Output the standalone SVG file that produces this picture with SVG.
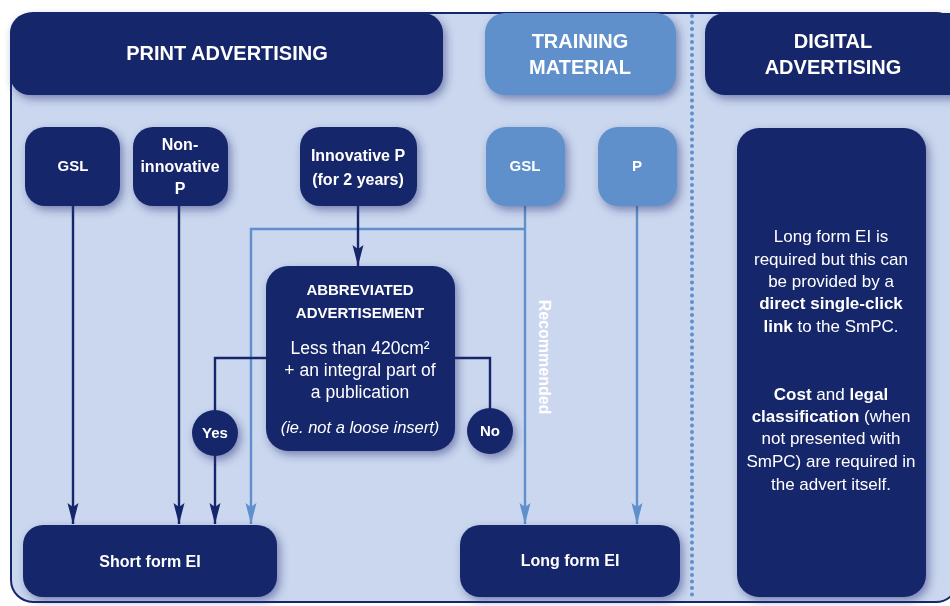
<svg xmlns="http://www.w3.org/2000/svg" width="950" height="606" viewBox="0 0 950 606">
  <style>
    .navy { fill: #16266b; }
    .light { fill: #5f90cb; }
    .t { font-family: "Liberation Sans", Arial, sans-serif; fill: #ffffff; text-anchor: middle; }
    .b { font-weight: bold; }
    .h { font-size: 20px; font-weight: bold; }
    .n { font-size: 16px; font-weight: bold; }
    .s { font-size: 15px; font-weight: bold; }
    .d { font-size: 17px; }
    .cn { fill: none; stroke: #16266b; stroke-width: 2.4; }
    .cl { fill: none; stroke: #5f90cb; stroke-width: 2.4; }
  </style>
  <defs>
    <filter id="sh" x="-20%" y="-20%" width="150%" height="150%">
      <feDropShadow dx="3" dy="4" stdDeviation="4.5" flood-color="#2b307a" flood-opacity="0.5"/>
    </filter>
    <marker id="an" markerUnits="userSpaceOnUse" markerWidth="22" markerHeight="12" viewBox="0 0 22 12" refX="21" refY="6" orient="auto">
      <path d="M0,0.5 L21,6 L0,11.5 L4,6 z" fill="#16266b"/>
    </marker>
    <marker id="al" markerUnits="userSpaceOnUse" markerWidth="22" markerHeight="12" viewBox="0 0 22 12" refX="21" refY="6" orient="auto">
      <path d="M0,0.5 L21,6 L0,11.5 L4,6 z" fill="#5f90cb"/>
    </marker>
  </defs>

  <rect x="0" y="0" width="950" height="606" fill="#ffffff"/>
  <rect id="panel" x="11" y="13" width="947" height="589" rx="22" fill="#cad7ee" stroke="#16266b" stroke-width="2"/>

  <line x1="692" y1="16" x2="692" y2="600" stroke="#5f90cb" stroke-width="4" stroke-dasharray="0 6.5" stroke-linecap="round"/>

  <g id="connectors">
    <line class="cn" x1="73" y1="206" x2="73" y2="524" marker-end="url(#an)"/>
    <line class="cn" x1="179" y1="206" x2="179" y2="524" marker-end="url(#an)"/>
    <path class="cl" d="M525,229 H251 V524" marker-end="url(#al)"/>
    <line class="cl" x1="525" y1="206" x2="525" y2="524" marker-end="url(#al)"/>
    <line class="cl" x1="637" y1="206" x2="637" y2="524" marker-end="url(#al)"/>
    <line class="cn" x1="358" y1="206" x2="358" y2="266" marker-end="url(#an)"/>
    <path class="cn" d="M266,358 H215 V412"/>
    <line class="cn" x1="215" y1="454" x2="215" y2="524" marker-end="url(#an)"/>
    <path class="cn" d="M455,358 H490 V410"/>
    <text class="t b" font-size="16" fill="#eef2fa" transform="translate(539,357) rotate(90)" x="0" y="0">Recommended</text>
  </g>

  <g id="print-advertising" filter="url(#sh)">
    <rect class="navy" x="10" y="13" width="433" height="82" rx="20"/>
    <text class="t h" x="227" y="60">PRINT ADVERTISING</text>
  </g>
  <g id="training-material" filter="url(#sh)">
    <rect class="light" x="485" y="13" width="191" height="82" rx="20"/>
    <text class="t h" x="580" y="48">TRAINING</text>
    <text class="t h" x="580" y="74">MATERIAL</text>
  </g>
  <g id="digital-advertising" filter="url(#sh)">
    <rect class="navy" x="705" y="13" width="265" height="82" rx="20"/>
    <text class="t h" x="833" y="48">DIGITAL</text>
    <text class="t h" x="833" y="74">ADVERTISING</text>
  </g>

  <g id="gsl-print" filter="url(#sh)">
    <rect class="navy" x="25" y="127" width="95" height="79" rx="20"/>
    <text class="t s" x="73" y="171">GSL</text>
  </g>
  <g id="non-innovative-p" filter="url(#sh)">
    <rect class="navy" x="133" y="127" width="95" height="79" rx="20"/>
    <text class="t n" x="180" y="150">Non-</text>
    <text class="t n" x="180" y="172">innovative</text>
    <text class="t n" x="180" y="194">P</text>
  </g>
  <g id="innovative-p" filter="url(#sh)">
    <rect class="navy" x="300" y="127" width="117" height="79" rx="20"/>
    <text class="t n" x="358" y="161">Innovative P</text>
    <text class="t n" x="358" y="185">(for 2 years)</text>
  </g>
  <g id="gsl-training" filter="url(#sh)">
    <rect class="light" x="486" y="127" width="79" height="79" rx="20"/>
    <text class="t s" x="525" y="171">GSL</text>
  </g>
  <g id="p-training" filter="url(#sh)">
    <rect class="light" x="598" y="127" width="79" height="79" rx="20"/>
    <text class="t s" x="637" y="171">P</text>
  </g>

  <g id="abbreviated" filter="url(#sh)">
    <rect class="navy" x="266" y="266" width="189" height="185" rx="22"/>
    <text class="t s" x="360" y="295">ABBREVIATED</text>
    <text class="t s" x="360" y="318">ADVERTISEMENT</text>
    <text class="t" font-size="17.5" x="360" y="354">Less than 420cm²</text>
    <text class="t" font-size="17.5" x="360" y="376">+ an integral part of</text>
    <text class="t" font-size="17.5" x="360" y="398">a publication</text>
    <text class="t" font-size="16.5" x="360" y="433" font-style="italic">(ie. not a loose insert)</text>
  </g>

  <g id="yes" filter="url(#sh)">
    <circle class="navy" cx="215" cy="433" r="23"/>
    <text class="t s" x="215" y="438">Yes</text>
  </g>
  <g id="no" filter="url(#sh)">
    <circle class="navy" cx="490" cy="431" r="23"/>
    <text class="t s" x="490" y="436">No</text>
  </g>

  <g id="short-form" filter="url(#sh)">
    <rect class="navy" x="23" y="525" width="254" height="72" rx="20"/>
    <text class="t n" x="150" y="567">Short form EI</text>
  </g>
  <g id="long-form" filter="url(#sh)">
    <rect class="navy" x="460" y="525" width="220" height="72" rx="20"/>
    <text class="t n" x="570" y="566">Long form EI</text>
  </g>

  <g id="digital-note" filter="url(#sh)">
    <rect class="navy" x="737" y="128" width="189" height="469" rx="22"/>
    <text class="t d" x="831" y="242">Long form EI is</text>
    <text class="t d" x="831" y="265">required but this can</text>
    <text class="t d" x="831" y="287">be provided by a</text>
    <text class="t d b" x="831" y="309">direct single-click</text>
    <text class="t d" x="831" y="332"><tspan font-weight="bold">link</tspan> to the SmPC.</text>
    <text class="t d" x="831" y="400"><tspan font-weight="bold">Cost</tspan> and <tspan font-weight="bold">legal</tspan></text>
    <text class="t d" x="831" y="422"><tspan font-weight="bold">classification</tspan> (when</text>
    <text class="t d" x="831" y="444">not presented with</text>
    <text class="t d" x="831" y="467">SmPC) are required in</text>
    <text class="t d" x="831" y="490">the advert itself.</text>
  </g>
</svg>
